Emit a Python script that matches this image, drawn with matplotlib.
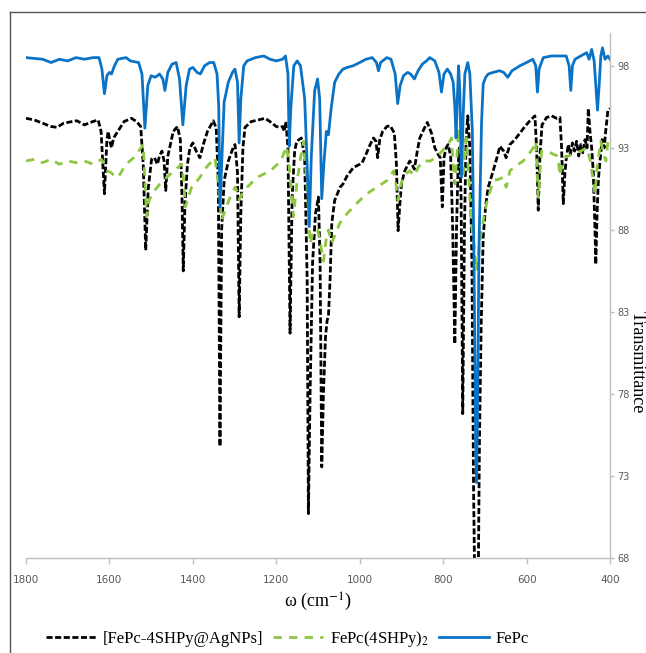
import matplotlib
matplotlib.use("Agg")
import matplotlib.pyplot as plt
import matplotlib.font_manager as fm
from matplotlib.lines import Line2D

# ---- data ----
fepc_w = [1800, 1760, 1740, 1720, 1700, 1680, 1660, 1640, 1625, 1618, 1612, 1606, 1600, 1595, 1588,
          1580, 1560, 1550, 1530, 1522, 1515, 1508, 1500, 1490, 1480, 1472, 1467, 1460, 1450, 1440,
          1432, 1424, 1416, 1408, 1400, 1390, 1382, 1372, 1360, 1350, 1342, 1338, 1335, 1331, 1325,
          1315, 1305, 1299, 1293, 1289, 1285, 1278, 1270, 1250, 1230, 1215, 1200, 1185, 1178, 1172,
          1169, 1165, 1158, 1150, 1142, 1132, 1126, 1121, 1116, 1108, 1101, 1096, 1091, 1086, 1080,
          1075, 1068, 1060, 1050, 1040, 1030, 1016, 1000, 985, 970, 960, 955, 950, 935, 925,
          915, 909, 903, 895, 885, 878, 869, 860, 850, 840, 832, 820, 810, 804, 798,
          790, 782, 776, 772, 769, 766, 763, 760, 756, 752, 748, 741, 736, 730, 726,
          722, 720, 718, 714, 708, 704, 698, 692, 680, 665, 655, 645, 635, 616, 600,
          585, 578, 574, 570, 560, 540, 520, 505, 498, 494, 490, 484, 470, 456, 450,
          444, 438, 434, 430, 426, 422, 418, 412, 405, 400]
fepc_t = [98.5, 98.4, 98.2, 98.4, 98.3, 98.5, 98.4, 98.5, 98.5, 97.8, 96.3, 97.4, 97.6, 97.5, 98.0,
          98.4, 98.5, 98.3, 98.2, 97.5, 94.2, 96.8, 97.4, 97.3, 97.5, 97.2, 96.5, 97.6, 98.1, 98.2,
          97.2, 94.4, 96.8, 97.8, 97.9, 97.6, 97.5, 98.0, 98.2, 98.2, 97.5, 95.5, 89.4, 92.0, 95.8,
          97.0, 97.6, 97.8, 97.0, 93.3, 96.0, 98.0, 98.3, 98.5, 98.6, 98.4, 98.3, 98.4, 98.6, 97.5,
          93.1, 95.5, 98.0, 98.3, 98.0, 96.0, 92.0, 88.2, 92.5, 96.5, 97.2, 96.0, 89.9, 92.0, 94.0,
          93.8, 95.5, 97.0, 97.5, 97.8, 97.9, 98.0, 98.2, 98.4, 98.5, 98.2, 97.7, 98.2, 98.5, 98.4,
          97.5, 95.7, 96.8, 97.4, 97.6, 97.5, 97.2, 97.7, 98.1, 98.3, 98.5, 98.3, 97.6, 96.4, 97.5,
          97.8, 97.5, 97.0, 95.5, 93.6, 96.0, 98.0, 96.5, 91.2, 95.0, 97.5, 98.2, 97.5, 94.0, 86.0,
          75.0, 72.6, 76.0, 87.0, 94.5, 96.9, 97.3, 97.5, 97.6, 97.7, 97.6, 97.3, 97.7, 98.0, 98.2,
          98.4, 98.0, 96.4, 97.8, 98.5, 98.6, 98.6, 98.6, 98.0, 96.5, 98.0, 98.4, 98.6, 98.8, 98.4,
          99.0, 98.3, 96.8, 95.3, 96.8, 98.6, 99.1, 98.4, 98.6, 98.4]

agnp_w = [1800, 1780, 1760, 1740, 1726, 1710, 1690, 1678, 1660, 1640, 1627, 1620, 1612, 1606, 1603,
          1598, 1595, 1590, 1580, 1565, 1547, 1535, 1525, 1519, 1513, 1507, 1499, 1492, 1485, 1480,
          1474, 1469, 1465, 1460, 1447, 1437, 1430, 1426, 1423, 1419, 1413, 1407, 1400, 1392, 1383,
          1375, 1365, 1351, 1344, 1339, 1335, 1331, 1325, 1315, 1305, 1299, 1293, 1289, 1285, 1280,
          1275, 1260, 1243, 1227, 1215, 1200, 1191, 1185, 1181, 1177, 1172, 1167, 1162, 1156, 1151,
          1140, 1132, 1126, 1123, 1119, 1113, 1106, 1099, 1095, 1091, 1087, 1082, 1078, 1075, 1071,
          1067, 1060, 1047, 1040, 1030, 1015, 1000, 994, 985, 975, 967, 961, 957, 952, 945,
          935, 927, 917, 912, 908, 904, 900, 892, 880, 875, 869, 862, 856, 845, 838,
          828, 820, 812, 807, 802, 798, 793, 788, 782, 777, 772, 768, 764, 761, 757,
          753, 749, 745, 741, 736, 731, 727, 724, 720, 716, 713, 709, 704, 698, 692,
          680, 670, 664, 655, 649, 640, 628, 616, 604, 592, 580, 576, 572, 568, 563,
          552, 540, 528, 520, 516, 512, 508, 505, 500, 495, 490, 485, 480, 475, 470,
          465, 460, 455, 452, 448, 444, 440, 436, 434, 431, 428, 424, 419, 414, 410,
          405, 400]
agnp_t = [94.8, 94.7, 94.5, 94.3, 94.25, 94.5, 94.6, 94.65, 94.4, 94.6, 94.7, 94.0, 90.2, 93.5, 94.0,
          93.3, 93.0, 93.6, 94.0, 94.6, 94.8, 94.6, 94.3, 92.0, 86.75, 90.5, 92.3, 92.4, 92.0, 92.5,
          92.8, 92.2, 90.4, 92.5, 94.0, 94.3, 93.5, 90.0, 85.5, 89.5, 92.0, 93.0, 93.3, 92.8, 92.4,
          93.2, 94.0, 94.65, 94.2, 91.0, 74.8, 88.0, 91.0, 92.2, 92.9, 93.2, 91.5, 82.7, 89.0, 93.0,
          94.25, 94.6, 94.7, 94.8, 94.6, 94.3, 94.25, 94.3, 94.0, 94.6, 93.0, 81.7, 90.0, 92.8, 93.4,
          93.6, 92.5, 85.0, 70.7, 78.0, 86.0, 89.0, 90.0, 86.0, 73.55, 78.0, 81.5, 82.5, 82.7, 85.0,
          88.4, 89.8, 90.6, 90.8, 91.3, 91.8, 92.0, 92.1, 92.6, 93.2, 93.6, 93.4, 92.4, 93.5, 94.0,
          94.3, 94.35, 93.9, 92.0, 87.95, 89.5, 90.8, 91.6, 92.2, 92.0, 91.7, 92.8, 93.6, 94.2, 94.55,
          93.9, 93.0, 92.6, 92.4, 89.4, 92.4, 93.0, 93.2, 92.5, 88.0, 81.05, 88.0, 92.0, 93.0, 90.0,
          76.8, 88.0, 93.5, 94.95, 93.0, 86.0, 72.0, 66.0, 65.0, 66.0, 75.0, 82.0, 87.55, 89.5, 90.6,
          91.6, 92.5, 93.1, 92.8, 92.4, 93.2, 93.5, 93.9, 94.3, 94.65, 94.95, 93.0, 89.2, 92.5, 94.4,
          94.85, 94.95, 94.8, 94.85, 93.0, 89.6, 91.5, 92.3, 93.2, 92.6, 93.3, 92.8, 93.4, 92.5, 93.2,
          92.7, 93.5, 93.0, 95.4, 94.0, 93.0, 91.5, 88.0, 85.9, 89.0, 91.0, 92.2, 93.5, 93.0, 94.1,
          95.3, 95.4]

shpy_w = [1800, 1780, 1760, 1740, 1720, 1700, 1680, 1660, 1639, 1619, 1612, 1605, 1597, 1588, 1579,
          1570, 1560, 1542, 1530, 1519, 1515, 1511, 1505, 1495, 1479, 1463, 1445, 1427, 1422, 1418,
          1403, 1386, 1368, 1347, 1340, 1331, 1313, 1299, 1293, 1289, 1280, 1270, 1246, 1214, 1189,
          1175, 1168, 1159, 1150, 1141, 1135, 1127, 1119, 1110, 1101, 1093, 1087, 1080, 1075, 1067,
          1048, 1030, 1015, 1000, 983, 959, 935, 919, 912, 908, 903, 895, 880, 869, 860,
          848, 830, 810, 795, 788, 780, 776, 772, 767, 762, 756, 752, 748, 745, 738,
          733, 728, 720, 713, 708, 696, 680, 665, 656, 649, 640, 625, 608, 595, 584,
          578, 575, 572, 568, 564, 550, 535, 525, 520, 515, 510, 490, 470, 456, 448,
          440, 436, 430, 422, 415, 410, 405, 400]
shpy_t = [92.2, 92.3, 92.1, 92.3, 92.0, 92.2, 92.1, 92.2, 92.0, 92.3, 92.0, 91.6, 91.5, 91.3, 91.2,
          91.6, 92.0, 92.4, 92.8, 93.2, 91.0, 88.8, 89.8, 90.3, 90.8, 91.2, 91.6, 92.0, 91.0, 89.4,
          90.6, 91.1, 91.8, 92.4, 91.0, 88.6, 89.85, 90.6, 90.3, 89.85, 90.3, 90.6, 91.2, 91.6, 92.2,
          93.1, 91.6, 88.8, 91.0, 92.5, 93.4, 91.0, 87.15, 88.0, 88.0, 87.0, 86.1, 87.5, 88.0, 87.2,
          88.4, 89.0, 89.4, 89.8, 90.2, 90.6, 91.0, 91.6, 90.6, 89.8, 90.6, 91.3, 91.6, 91.3, 91.8,
          92.2, 92.2, 92.6, 93.0, 93.2, 93.6, 92.0, 90.8, 92.5, 94.2, 92.0, 91.3, 92.5, 93.6, 91.0,
          88.5, 87.55, 85.5, 87.0, 88.0, 89.6, 91.0, 91.1, 91.2, 90.6, 91.6, 91.9, 92.2, 92.6, 93.0,
          93.4, 92.0, 90.0, 91.5, 92.8, 92.8, 92.6, 92.5, 91.3, 92.0, 92.4, 92.6, 92.8, 93.0, 92.3,
          91.0, 90.2, 92.0, 93.4, 92.6, 92.2, 93.4, 93.3]

x_ticks = [1800, 1600, 1400, 1200, 1000, 800, 600, 400]
y_ticks = [68, 73, 78, 83, 88, 93, 98]

# ---- fonts ----
installed = {f.name for f in fm.fontManager.ttflist}
tick_font = "Liberation Sans Narrow" if "Liberation Sans Narrow" in installed else "DejaVu Sans"
serif_font = "Liberation Serif"
plt.rcParams["mathtext.fontset"] = "stix"

fig = plt.figure(figsize=(6.46, 6.53), dpi=100)
ax = fig.add_axes([26 / 646, 95 / 653, 584 / 646, 525 / 653])

ax.plot(agnp_w, agnp_t, color="black", lw=2.0, dashes=(2.2, 0.9), label="[FePc-4SHPy@AgNPs]")
ax.plot(shpy_w, shpy_t, color="#8dc640", lw=2.0, dashes=(3.0, 2.6), label="FePc(4SHPy)$_2$")
ax.plot(fepc_w, fepc_t, color="#0b73c6", lw=2.0, label="FePc")

ax.set_xlim(1800, 400)
ax.set_ylim(68, 100)
ax.set_xticks(x_ticks)
ax.set_yticks(y_ticks)

# axis look: only bottom and right lines
for side in ["left", "top"]:
    ax.spines[side].set_visible(False)
for side in ["bottom", "right"]:
    ax.spines[side].set_color("#bfbfbf")
    ax.spines[side].set_linewidth(1.0)
ax.yaxis.tick_right()
ax.tick_params(axis="both", colors="#bfbfbf", labelcolor="#595959", width=1.0)
ax.tick_params(axis="x", length=4, pad=8)
ax.tick_params(axis="y", length=3, pad=2)
for lab in ax.get_xticklabels() + ax.get_yticklabels():
    lab.set_fontfamily(tick_font)
    lab.set_fontsize(7.5)
for lab in ax.get_yticklabels():
    lab.set_fontsize(7)

ax.set_xlabel("ω (cm$^{-1}$)", fontfamily=serif_font, fontsize=13, labelpad=4)
fig.text(0.999, 0.445, "Transmittance", rotation=-90, fontfamily=serif_font,
         fontsize=13, ha="right", va="center")

fig.legend(loc="center", bbox_to_anchor=(0.445, 0.022), ncol=3, frameon=False,
           prop={"family": serif_font, "size": 12}, handlelength=3.0,
           handletextpad=0.4, columnspacing=0.6)

# thin frame round the whole picture (left and top edges visible)
fig.add_artist(Line2D([10 / 646, 10 / 646], [0, 1 - 12 / 653], transform=fig.transFigure,
                      color="#555555", lw=1.0))
fig.add_artist(Line2D([10 / 646, 1], [1 - 12 / 653, 1 - 12 / 653], transform=fig.transFigure,
                      color="#555555", lw=1.0))

fig.savefig("out.png", dpi=100)
